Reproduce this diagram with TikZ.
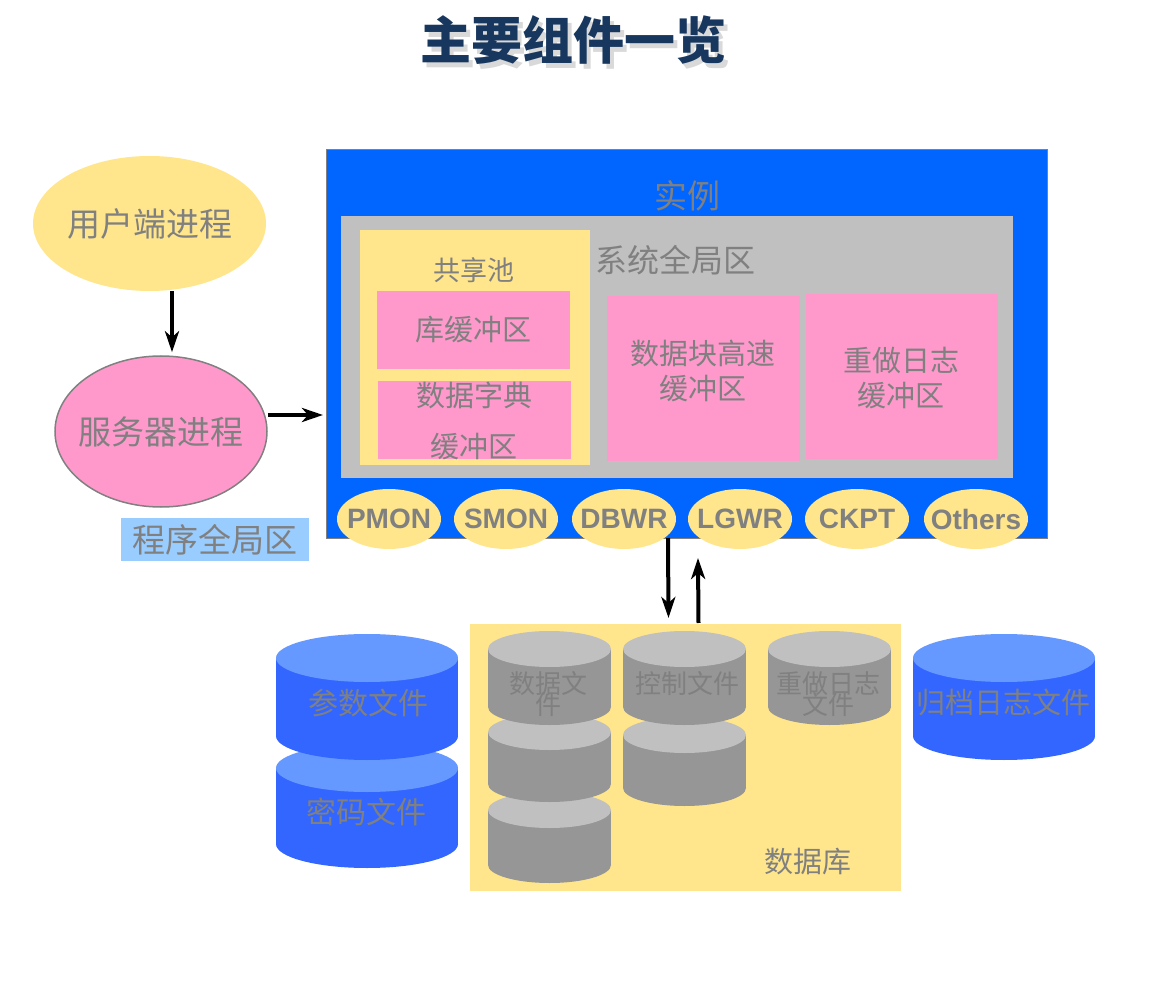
\documentclass[tikz,border=0pt]{standalone}
\usepackage{fontspec}
\setsansfont{Liberation Sans}
\newfontfamily\cjk{Noto Sans CJK SC}
\usetikzlibrary{shapes,arrows.meta,positioning}
\definecolor{yelfill}{HTML}{FFE68C}
\definecolor{pinkfill}{HTML}{FF99CC}
\definecolor{instblue}{HTML}{0066FF}
\definecolor{sgagray}{HTML}{C0C0C0}
\definecolor{pgablue}{HTML}{99CCFF}
\definecolor{tagtext}{HTML}{808080}
\definecolor{titleblue}{HTML}{17375E}
\definecolor{drumtop}{HTML}{6699FF}
\definecolor{drumbody}{HTML}{3366FF}
\definecolor{dbtop}{HTML}{C0C0C0}
\definecolor{dbbody}{HTML}{969696}
\tikzset{
  pane/.style = {anchor=north west, inner sep=0pt, outer sep=0pt},
  yelpane/.style = {pane, fill=yelfill},
  pinkpane/.style = {pane, fill=pinkfill},
  tag/.style = {inner sep=0pt, text=tagtext, align=center,
    font=\cjk\fontsize{#1}{35}\selectfont},
  bgproc/.style = {ellipse, fill=yelfill, minimum width=104pt, minimum height=60pt,
    inner xsep=-11pt, inner ysep=0pt, text=tagtext,
    font=\sffamily\bfseries\fontsize{28}{28}\selectfont},
  flow/.style = {-{Stealth[length=21pt, width=14pt, inset=6pt]}, line width=4pt}
}
% drum: x left, x right, y top, y bottom, y radius, body, top
\newcommand{\drum}[7]{%
  \fill[#6] (#1,#3) rectangle (#2,#4);
  \fill[#6] ({(#1+#2)/2},#4) ellipse [x radius={(#2-#1)/2}, y radius=#5];
  \fill[#7] ({(#1+#2)/2},#3) ellipse [x radius={(#2-#1)/2}, y radius=#5];
}
\begin{document}
\begin{tikzpicture}[x=1pt,y=-1pt]
    \useasboundingbox (0,0) rectangle (1163,1000);
    % title
    \node[text=black!15, font=\cjk\bfseries\fontsize{51}{51}\selectfont] (shade) at (577,45) {主要组件一览};
    \node[text=titleblue, font=\cjk\bfseries\fontsize{51}{51}\selectfont] (title) at (573,40) {主要组件一览};
    % processes on the left
    \node[ellipse, fill=yelfill, minimum width=233pt, minimum height=135pt, inner sep=0pt] (user) at (149.5,223.5) {};
    \node[tag=33] (usertxt) at (user) {用户端进程};
    \node[ellipse, fill=pinkfill, draw=tagtext, line width=1.5pt, minimum width=212pt, minimum height=151pt, inner sep=0pt] (server) at (161,431.5) {};
    \node[tag=33] (servertxt) at (server) {服务器进程};
    \node[pane, fill=pgablue, minimum width=188pt, minimum height=43pt] (pga) at (121,518) {};
    \node[tag=33] (pgatxt) at (pga) {程序全局区};
    % instance
    \node[pane, fill=instblue, draw=tagtext, minimum width=721pt, minimum height=389pt] (inst) at (326,149) {};
    \node[tag=33] (insttxt) at (687,196) {实例};
    \node[pane, fill=sgagray, minimum width=672pt, minimum height=262pt] (sga) at (341,216) {};
    \node[tag=32, anchor=west] (sgatxt) at (595,260) {系统全局区};
    \node[yelpane, minimum width=230pt, minimum height=235pt] (pool) at (360,230) {};
    \node[tag=27] (pooltxt) at (474,270) {共享池};
    \node[pinkpane, minimum width=193pt, minimum height=78pt] (libc) at (377,291) {};
    \node[tag=29] (libctxt) at (libc) {库缓冲区};
    \node[pinkpane, minimum width=193pt, minimum height=78pt] (dictc) at (378,381) {};
    \node[tag=29] (dicttxt) at (474,395) {数据字典};
    \node[tag=29] (dicttxt2) at (474,447) {缓冲区};
    \node[pinkpane, minimum width=193pt, minimum height=165pt] (bufc) at (607,296) {};
    \node[tag=29] (buftxt) at (703,371) {数据块高速\\缓冲区};
    \node[pinkpane, minimum width=192pt, minimum height=165pt] (redoc) at (806,294) {};
    \node[tag=29] (redotxt) at (901,378) {重做日志\\缓冲区};
    \foreach \nm/\xc in {PMON/389, SMON/506, DBWR/624, LGWR/740, CKPT/857, Others/976}
        \node[bgproc] (\nm) at (\xc,519) {\nm};
    % database
    \node[yelpane, minimum width=431pt, minimum height=267pt] (db) at (470,624) {};
    \node[tag=29] (dbtxt) at (808,862) {数据库};
    \drum{488}{611}{810}{865}{18}{dbbody}{dbtop}
    \drum{488}{611}{732}{784}{18}{dbbody}{dbtop}
    \drum{488}{611}{649}{707}{18}{dbbody}{dbtop}
    \drum{623}{746}{735}{788}{18}{dbbody}{dbtop}
    \drum{623}{746}{649}{707}{18}{dbbody}{dbtop}
    \drum{768}{891}{649}{707}{18}{dbbody}{dbtop}
    \node[tag=26] (datatxt) at (548,684) {数据文};
    \node[tag=26] (datatxt2) at (548,705) {件};
    \node[tag=26] (ctltxt) at (687,684) {控制文件};
    \node[tag=26] (logtxt) at (828,684) {重做日志};
    \node[tag=26] (logtxt2) at (828,705) {文件};
    % files outside the database
    \drum{276}{458}{768}{844}{24}{drumbody}{drumtop}
    \drum{276}{458}{658}{736}{24}{drumbody}{drumtop}
    \drum{913}{1095}{658}{736}{24}{drumbody}{drumtop}
    \node[tag=30] (parmtxt) at (368,703) {参数文件};
    \node[tag=30] (pwdtxt) at (366,812) {密码文件};
    \node[tag=29] (archtxt) at (1003,702) {归档日志文件};
    % connectors
    \draw[flow] ([xshift=22.5pt]user.south) -- ([xshift=11pt, yshift=3pt]server.north);
    \draw[flow] ([yshift=16.5pt]server.east) -- ([yshift=16.5pt, xshift=-3pt]server.east -| inst.west);
    \draw[flow] ([xshift=-18.5pt]inst.south) -- ([xshift=-17pt, yshift=6pt]db.north);
    \draw[flow] ([xshift=13pt, yshift=1pt]db.north) -- ([xshift=11.5pt, yshift=-20pt]inst.south);
\end{tikzpicture}
\end{document}
